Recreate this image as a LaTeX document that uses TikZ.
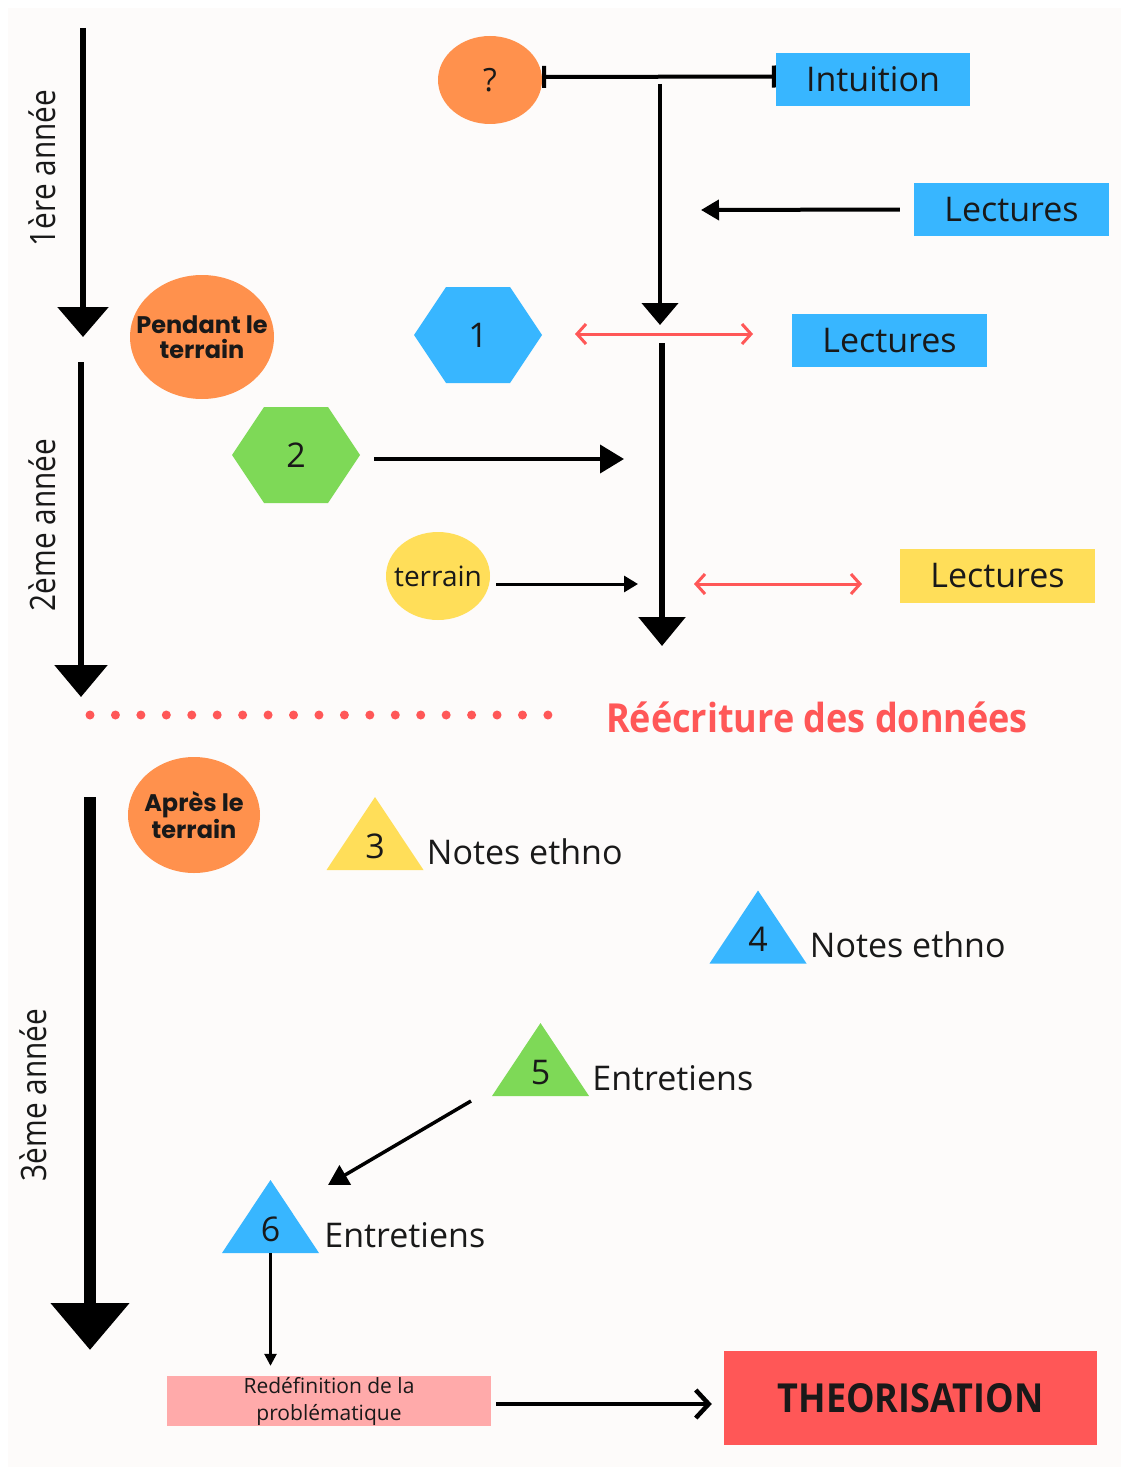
\documentclass[tikz,border=0pt]{standalone}
\usepackage{fontspec}
\setmainfont{Open Sans}
\newfontfamily\spartan{Poppins}
\newfontfamily\condbold{Open Sans}[FakeStretch=0.9]
\newfontfamily\condlight{Open Sans}[FakeStretch=0.85]
\usepackage{tikz}
\usetikzlibrary{calc}
\usetikzlibrary{arrows.meta}
\usetikzlibrary{shapes.geometric}
\usetikzlibrary{positioning}
\usepackage{color}
\definecolor{tangerine}{RGB}{255, 145, 77}
\definecolor{skyblue}{RGB}{56, 182, 255}
\definecolor{leaf}{RGB}{126, 217, 87}
\definecolor{sunflower}{RGB}{255, 222, 89}
\definecolor{coral}{RGB}{255, 87, 87}
\definecolor{blush}{RGB}{255, 170, 170}
\definecolor{paper}{RGB}{253, 251, 250}
\definecolor{ink}{RGB}{25, 25, 25}
\newcommand{\px}[2]{\fontsize{#1}{#2}\selectfont}

\tikzset{
    blob/.style={ellipse, fill=#1, inner sep=-15pt, text=ink, align=center},
    tag/.style={rectangle, fill=#1, inner sep=0pt, minimum width=195pt, minimum height=53pt, text=ink, font=\px{34}{36}},
    hexa/.style={inner sep=0pt, minimum width=128pt, minimum height=96pt, text=ink, font=\px{34}{36},
        path picture={\fill[#1] (path picture bounding box.west)
            -- ([xshift=32pt]path picture bounding box.north west) -- ([xshift=-32pt]path picture bounding box.north east)
            -- (path picture bounding box.east)
            -- ([xshift=-32pt]path picture bounding box.south east) -- ([xshift=32pt]path picture bounding box.south west)
            -- cycle;}},
    tri/.style={inner sep=0pt, minimum width=97pt, text height=61pt, text depth=12pt, text=ink, font=\px{34}{36},
        path picture={\fill[#1] (path picture bounding box.south west) -- (path picture bounding box.north)
            -- (path picture bounding box.south east) -- cycle;}},
    caption/.style={anchor=base west, inner sep=0pt, text=ink, font=\px{34}{36}},
    year/.style={rotate=90, inner sep=0pt, text=ink, font=\condlight\px{35}{36}},
    redarrow/.style={coral, line width=3pt, {Straight Barb[length=9pt,width=20pt]}-{Straight Barb[length=9pt,width=20pt]}}
}

\begin{document}
\begin{tikzpicture}[x=1pt, y=-1pt]
    \useasboundingbox (0,0) rectangle (1127,1474);
    \fill[white] (0,0) rectangle (1127,1474);
    \fill[paper] (8,8) rectangle (1121,1467);

    % Time line
    \coordinate (yearAtop) at (83,28);
    \coordinate (yearAend) at (83,337);
    \coordinate (yearBtop) at (81,362);
    \coordinate (yearBend) at (81,697);
    \coordinate (yearCtop) at (90,797);
    \coordinate (yearCend) at (90,1350);
    \draw[line width=6pt, -{Triangle[width=50pt,length=30pt]}]  (yearAtop) -- (yearAend);
    \draw[line width=6pt, -{Triangle[width=52pt,length=32pt]}]  (yearBtop) -- (yearBend);
    \draw[line width=12pt, -{Triangle[width=76pt,length=47pt]}] (yearCtop) -- (yearCend);
    \node[year] (yearA) at (42,168)  {1ère année};
    \node[year] (yearB) at (42,525)  {2ème année};
    \node[year] (yearC) at (33,1095) {3ème année};

    % First year
    \node[blob=tangerine, minimum width=104pt, minimum height=88pt, font=\px{32}{34}] (qmark) at (490,80) {?};
    \node[tag=skyblue, minimum width=194pt] (intuition) at (873,79.5) {Intuition};
    \draw[line width=4pt, {Bar[width=22pt]}-{Bar[width=22pt]}] ([yshift=3pt]qmark.east) -- ([yshift=3pt]intuition.west);
    \coordinate (mainAtop) at (660,84);
    \coordinate (mainAend) at (660,325);
    \draw[line width=4.5pt, -{Triangle[width=36pt,length=22pt]}] (mainAtop) -- (mainAend);
    \node[tag=skyblue] (lectA) at (1011.5,209.5) {Lectures};
    \coordinate (lectAend) at (701,210);
    \draw[line width=4pt, -{Triangle[width=20pt,length=18pt]}] ([xshift=-14pt]lectA.west) -- (lectAend);

    % Pendant le terrain
    \node[blob=tangerine, minimum width=144pt, minimum height=124pt, font=\spartan\bfseries\px{24}{25}] (pendant) at (202,337) {Pendant le\\terrain};
    \node[hexa=skyblue] (hexone) at (478,335) {1};
    \node[tag=skyblue] (lectB) at (889.5,340.5) {Lectures};
    \coordinate (redAstart) at (575,334);
    \coordinate (redAend) at (753,334);
    \draw[redarrow] (redAstart) -- (redAend);
    \coordinate (mainBtop) at (662,343);
    \coordinate (mainBend) at (662,646);
    \draw[line width=6pt, -{Triangle[width=46pt,length=29pt]}] (mainBtop) -- (mainBend);
    \node[hexa=leaf] (hextwo) at (296,455) {2};
    \coordinate (hextwoend) at (624,459);
    \draw[line width=4pt, -{Triangle[width=28pt,length=24pt]}] ([xshift=14pt,yshift=-4pt]hextwo.east) -- (hextwoend);
    \node[blob=sunflower, minimum width=104pt, minimum height=88pt, font=\px{28}{30}] (terrain) at (438,576) {terrain};
    \coordinate (terrainend) at (638,584);
    \draw[line width=3pt, -{Triangle[width=16pt,length=14pt]}] ([xshift=6pt,yshift=-8pt]terrain.east) -- (terrainend);
    \coordinate (redBstart) at (694,584);
    \coordinate (redBend) at (862,584);
    \draw[redarrow] (redBstart) -- (redBend);
    \node[tag=sunflower, minimum height=54pt] (lectC) at (997.5,576) {Lectures};

    % Reecriture
    \foreach \k in {0,...,18}
        \fill[coral] (90+25.44*\k,715) circle (4.5pt);
    \node[text=coral, font=\condbold\bfseries\px{40}{42}] (rewrite) at (817,717) {Réécriture des données};

    % Apres le terrain
    \node[blob=tangerine, minimum width=132pt, minimum height=116pt, font=\spartan\bfseries\px{24}{25}] (apres) at (194,815) {Après le\\terrain};
    \node[tri=sunflower] (trithree) at (375,833.5) {3};
    \node[caption] (notesA) at ([xshift=3pt,yshift=6pt]trithree.south east) {Notes ethno};
    \node[tri=skyblue] (trifour) at (758,927) {4};
    \node[caption] (notesB) at ([xshift=3pt,yshift=6pt]trifour.south east) {Notes ethno};
    \node[tri=leaf] (trifive) at (540.5,1059.5) {5};
    \node[caption] (talksA) at ([xshift=3pt,yshift=6pt]trifive.south east) {Entretiens};
    \node[tri=skyblue] (trisix) at (270.5,1216.5) {6};
    \node[caption] (talksB) at ([xshift=5pt,yshift=6pt]trisix.south east) {Entretiens};
    \coordinate (talkstart) at (471,1101);
    \coordinate (talkend) at (328,1185);
    \draw[line width=3.5pt, -{Triangle[width=22pt,length=20pt]}] (talkstart) -- (talkend);

    % Redefinition & theorisation
    \node[tag=blush, minimum width=324pt, minimum height=50pt, align=center, font=\px{21}{27}] (redef) at (329,1401) {Redéfinition de la\\problématique};
    \draw[line width=2.5pt, -{Triangle[width=12pt,length=12pt]}] (trisix.south) -- ([yshift=10pt]trisix.south |- redef.north);
    \node[tag=coral, minimum width=373pt, minimum height=94pt, font=\condbold\bfseries\px{40}{42}] (theo) at (910.5,1398) {THEORISATION};
    \draw[line width=4.5pt, -{Straight Barb[length=13pt,width=28pt]}] ([xshift=5pt,yshift=-3pt]redef.east) -- ([xshift=-12pt,yshift=-3pt]redef.east -| theo.west);
\end{tikzpicture}
\end{document}
